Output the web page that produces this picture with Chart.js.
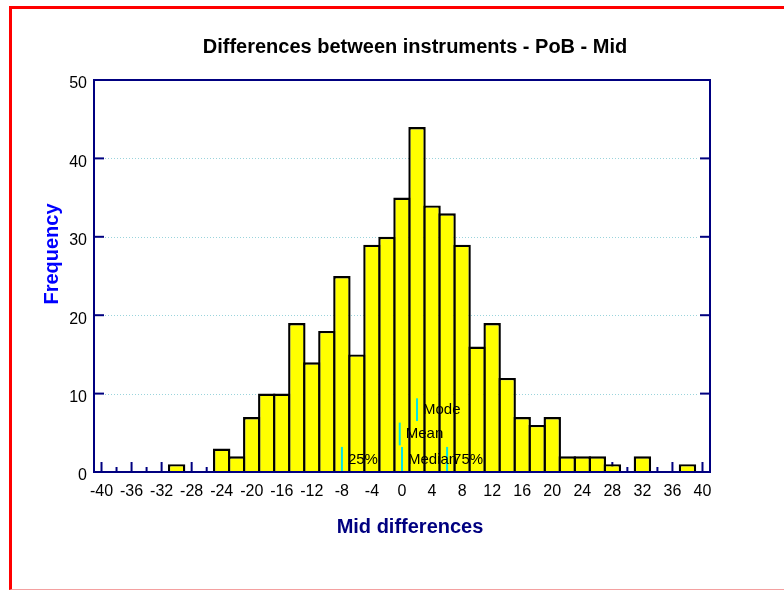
<!DOCTYPE html>
<html><head><meta charset="utf-8">
<script src="https://cdn.jsdelivr.net/npm/chart.js@4/dist/chart.umd.min.js"></script>
<style>
html,body{margin:0;padding:0;background:#fff;overflow:hidden;}
#wrap{position:relative;width:784px;height:590px;overflow:hidden;}
#frame{position:absolute;left:9px;top:6px;width:800px;height:584px;box-sizing:border-box;border-left:3px solid #ff0000;border-top:3px solid #ff0000;border-bottom:1px solid #f4a0a0;pointer-events:none;}
canvas{position:absolute;left:0;top:0;}
</style></head><body>
<div id="wrap"><canvas id="c" width="784" height="590"></canvas><div id="frame"></div></div>
<script>
// ---- data ----
const binCenters  = [-30,-24,-22,-20,-18,-16,-14,-12,-10,-8,-6,-4,-2,0,2,4,6,8,10,12,14,16,18,20,22,24,26,28,32,38];
const frequencies = [  1,  3,  2,  7, 10, 10, 19, 14, 18,25,15,29,30,35,44,34,33,29,16,19,12, 7, 6, 7, 2, 2, 2, 1, 2, 1];
const xTickValues = [-40,-36,-32,-28,-24,-20,-16,-12,-8,-4,0,4,8,12,16,20,24,28,32,36,40];
const yTickValues = [0,10,20,30,40,50];
const markerNames = ['25%','Median','75%','Mean','Mode'];
const markerX     = [-8, 0, 6, -0.3, 2];
const markerLevel = [0, 0, 0, 1, 2];
const titleText = 'Differences between instruments - PoB - Mid';
const xTitle = 'Mid differences';
const yTitle = 'Frequency';

const FONT = '"Liberation Sans", Arial, sans-serif';
const levelRanges = [[0,3.2],[3.4,6.3],[6.5,9.4]];
const BW = 2.4;

const markerSets = markerNames.map((n,i)=>({
  type:'line', label:n, order:1,
  data:[{x:markerX[i], y:levelRanges[markerLevel[i]][0]},{x:markerX[i], y:levelRanges[markerLevel[i]][1]}],
  borderColor:'#00e4e4', borderWidth:2, pointRadius:0, fill:false, tension:0
}));

const deco = {
  id:'deco',
  beforeDatasetsDraw(chart){
    const {ctx, chartArea:a, scales:{x,y}} = chart;
    ctx.save();
    // dotted grid
    ctx.strokeStyle = '#9ad4dc'; ctx.lineWidth = 1; ctx.setLineDash([1,2]);
    yTickValues.forEach(v=>{
      if (v<=0 || v>=50) return;
      const py = Math.round(y.getPixelForValue(v))+0.5;
      ctx.beginPath(); ctx.moveTo(a.left+11, py); ctx.lineTo(a.right-11, py); ctx.stroke();
    });
    ctx.setLineDash([]);
    // inner x ticks (major + minor)
    ctx.strokeStyle = '#000080'; ctx.lineWidth = 2;
    xTickValues.forEach((v,i)=>{
      const px = x.getPixelForValue(v);
      ctx.beginPath(); ctx.moveTo(px, a.bottom); ctx.lineTo(px, a.bottom-10); ctx.stroke();
      if (i < xTickValues.length-1){
        const pm = x.getPixelForValue((v + xTickValues[i+1])/2);
        ctx.beginPath(); ctx.moveTo(pm, a.bottom); ctx.lineTo(pm, a.bottom-5); ctx.stroke();
      }
    });
    ctx.restore();
  },
  afterDatasetsDraw(chart){
    const {ctx, chartArea:a, scales:{x,y}} = chart;
    ctx.save();
    // y inner ticks
    ctx.strokeStyle = '#000080'; ctx.lineWidth = 2;
    yTickValues.forEach(v=>{
      const py = y.getPixelForValue(v);
      ctx.beginPath(); ctx.moveTo(a.left, py); ctx.lineTo(a.left+10, py); ctx.stroke();
      ctx.beginPath(); ctx.moveTo(a.right, py); ctx.lineTo(a.right-10, py); ctx.stroke();
    });
    // frame
    ctx.strokeRect(a.left, a.top, a.right-a.left, a.bottom-a.top);
    // marker labels
    ctx.fillStyle = '#000'; ctx.font = '15px '+FONT; ctx.textBaseline='middle'; ctx.textAlign='left';
    markerNames.forEach((n,i)=>{
      const r = levelRanges[markerLevel[i]];
      const px = x.getPixelForValue(markerX[i]);
      const py = (y.getPixelForValue(r[0]) + y.getPixelForValue(r[1]))/2;
      ctx.fillText(n, px+6, py);
    });
    ctx.restore();
  },
  afterDraw(chart){
    const {ctx} = chart;
    ctx.save();
    ctx.textAlign='center'; ctx.textBaseline='middle';
    ctx.fillStyle='#000'; ctx.font='bold 20px '+FONT;
    ctx.fillText(titleText, 415, 47);
    ctx.fillStyle='#000080';
    ctx.fillText(xTitle, 410, 527);
    ctx.translate(52, 254); ctx.rotate(-Math.PI/2);
    ctx.fillStyle='#0000ff';
    ctx.fillText(yTitle, 0, 0);
    ctx.restore();
  }
};

new Chart(document.getElementById('c'), {
  type:'bar',
  data:{
    datasets:[
      {type:'bar', order:2, data: binCenters.map((c,i)=>({x:c, y:frequencies[i]})),
       backgroundColor:'#ffff00', borderColor:'#000000', borderWidth:BW,
       barPercentage:(15+BW)/15, categoryPercentage:1, grouped:false, inflateAmount:0},
      ...markerSets
    ]
  },
  options:{
    responsive:false, animation:false, devicePixelRatio:1,
    layout:{padding:{top:80, right:74, left:0, bottom:0}},
    plugins:{legend:{display:false}, tooltip:{enabled:false}, title:{display:false}},
    scales:{
      x:{type:'linear', min:-41, max:41, offset:false,
         grid:{display:false, drawTicks:false}, border:{display:false},
         afterBuildTicks:(s)=>{ s.ticks = xTickValues.map(v=>({value:v})); },
         afterFit:(s)=>{ s.height = 118; },
         ticks:{autoSkip:false, maxRotation:0, minRotation:0, padding:10, color:'#000', font:{family:FONT, size:16}}},
      y:{type:'linear', min:0, max:50,
         grid:{display:false, drawTicks:false}, border:{display:false},
         afterBuildTicks:(s)=>{ s.ticks = yTickValues.map(v=>({value:v})); },
         afterFit:(s)=>{ s.width = 94; },
         ticks:{padding:7, labelOffset:4, color:'#000', font:{family:FONT, size:16}}}
    }
  },
  plugins:[deco]
});
</script>
</body></html>
